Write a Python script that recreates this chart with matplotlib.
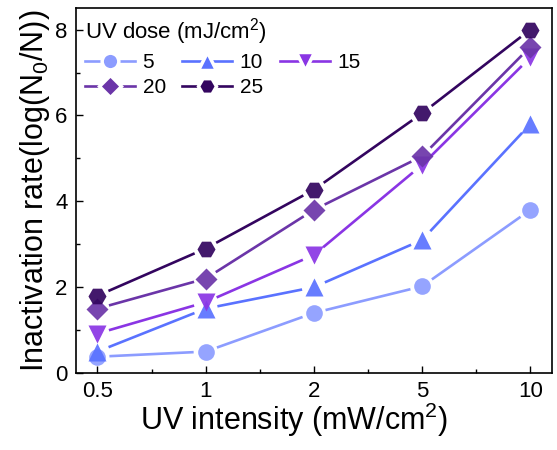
import matplotlib
matplotlib.use('Agg')
import matplotlib.pyplot as plt
from matplotlib.lines import Line2D
from matplotlib.ticker import MultipleLocator
import numpy as np

plt.rcParams['font.family'] = ['Liberation Sans', 'DejaVu Sans']
plt.rcParams['mathtext.fontset'] = 'custom'
plt.rcParams['mathtext.rm'] = 'Liberation Sans'

# UV intensity levels (categorical x axis)
intensity = ['0.5', '1', '2', '5', '10']

# Inactivation rate per UV dose (mJ/cm2)
doses = ['5', '10', '15', '20', '25']
rate_5 = [0.38, 0.50, 1.40, 2.02, 3.80]
rate_10 = [0.50, 1.50, 2.00, 3.10, 5.80]
rate_15 = [0.92, 1.65, 2.75, 4.85, 7.35]
rate_20 = [1.50, 2.20, 3.80, 5.05, 7.60]
rate_25 = [1.80, 2.90, 4.27, 6.05, 8.00]

series = [rate_5, rate_10, rate_15, rate_20, rate_25]
colors = ['#8C9CFF', '#5A72FF', '#8A35E4', '#6B35A8', '#33055F']
markers = ['o', '^', 'v', 'D', 'H']
msizes = [12, 13, 13, 11, 13]

fig = plt.figure(figsize=(5.57, 4.5), dpi=100)
ax = fig.add_axes([0.136, 0.171, 0.855, 0.811])

x = np.arange(len(intensity))
ax.set_xlim(-0.2, 4.2)
ax.set_ylim(0, 8.5)


def gapped_line(ax, xs, ys, color, gap=12, lw=1.9):
    # segments stop short of each marker, Origin style
    pts = ax.transData.transform(np.column_stack([xs, ys]))
    inv = ax.transData.inverted()
    for p0, p1 in zip(pts[:-1], pts[1:]):
        d = p1 - p0
        u = d / np.hypot(*d)
        a = inv.transform(p0 + u * gap)
        b = inv.transform(p1 - u * gap)
        ax.plot([a[0], b[0]], [a[1], b[1]], color=color, lw=lw,
                solid_capstyle='butt', zorder=2)


handles = []
for vals, c, m, ms, lab in zip(series, colors, markers, msizes, doses):
    gapped_line(ax, x, vals, c)
    ax.plot(x, vals, ls='none', marker=m, ms=ms, mfc=c, mec='none',
            alpha=0.92, zorder=3)
    handles.append(Line2D([], [], color=c, lw=1.9, marker=m, ms=ms,
                          mfc=c, mec='white', mew=2.5, label=lab))

ax.set_xticks(x)
ax.set_xticklabels(intensity)
ax.set_xticks(x[:-1] + 0.5, minor=True)
ax.yaxis.set_major_locator(MultipleLocator(2))
ax.yaxis.set_minor_locator(MultipleLocator(1))
ax.tick_params(which='both', direction='in', top=False, right=False)
ax.tick_params(which='major', length=5, width=1, labelsize=16, pad=6)
ax.tick_params(which='minor', length=3, width=1)
for s in ax.spines.values():
    s.set_linewidth(1.2)

ax.set_xlabel('UV intensity (mW/cm$^2$)', fontsize=22, labelpad=2)
ax.xaxis.set_label_coords(0.458, -0.075, transform=ax.transAxes)
ax.xaxis.label.set_va('top')
ax.set_ylabel('Inactivation rate(log(N$_0$/N))', fontsize=22, labelpad=2)

# row-wise legend order: 5, 10, 15 / 20, 25
order = [0, 3, 1, 4, 2]
leg = ax.legend(handles=[handles[i] for i in order], ncol=3,
                loc='upper left', bbox_to_anchor=(-0.015, 1.025),
                frameon=False, title='UV dose (mJ/cm$^2$)',
                title_fontsize=16, fontsize=15, handlelength=2.4,
                handletextpad=0.35, columnspacing=0.8, labelspacing=0.3,
                alignment='left', borderpad=0.3)

plt.savefig('out.png', dpi=100)
